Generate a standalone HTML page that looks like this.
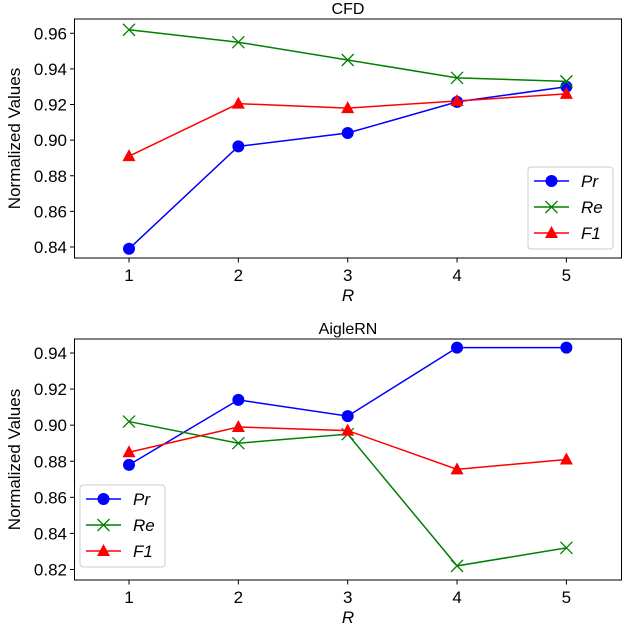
<!DOCTYPE html>
<html><head><meta charset="utf-8"><style>body{margin:0;background:#fff}svg{display:block;font-family:"Liberation Sans","DejaVu Sans",sans-serif}</style></head>
<body>
<svg id="c" width="628" height="624"></svg>
<script>
const categories=[1,2,3,4,5];
const cfdPr=[0.839,0.8965,0.904,0.9215,0.930];
const cfdRe=[0.962,0.955,0.945,0.935,0.933];
const cfdF1=[0.891,0.9205,0.918,0.922,0.926];
const aigPr=[0.878,0.914,0.905,0.943,0.943];
const aigRe=[0.902,0.890,0.895,0.822,0.832];
const aigF1=[0.885,0.899,0.897,0.8755,0.881];
const cfdTicks=[0.84,0.86,0.88,0.90,0.92,0.94,0.96];
const aigTicks=[0.82,0.84,0.86,0.88,0.90,0.92,0.94];
const seriesNames=["Pr","Re","F1"];
const NS="http://www.w3.org/2000/svg";
const svg=document.getElementById('c');
function mk(t,a,p){const e=document.createElementNS(NS,t);for(const k in a)e.setAttribute(k,a[k]);(p||svg).appendChild(e);return e;}
const xs=v=>129+(v-1)*109.35;
const colors=["#0000ff","#008000","#ff0000"];
function marker(g,type,x,y,c){
  if(type==0){const m=mk('circle',{cx:x,cy:y,r:6,fill:c},g);}
  else if(type==1){const m=mk('path',{d:`M${x-6},${y-6}L${x+6},${y+6}M${x-6},${y+6}L${x+6},${y-6}`,stroke:c,'stroke-width':1.3,fill:'none'},g);}
  else {const m=mk('path',{d:`M${x},${y-7}L${x+6.5},${y+5}L${x-6.5},${y+5}Z`,fill:c},g);}
}
function panel(name,title,top,bot,vTop,vBot,ticks,series,legX,legY){
  const g=mk('g',{});
  const ys=v=>bot.y+(v-bot.v)*(top.y-bot.y)/(top.v-bot.v);
  const f=mk('rect',{x:74.5,y:vTop,width:547,height:vBot-vTop,fill:'none',stroke:'#000','stroke-width':1},g);
  
  const t=mk('text',{x:348,y:vTop-5,'text-anchor':'middle','font-size':16},g);t.textContent=title;
  
  ticks.forEach(v=>{const y=ys(v);mk('line',{x1:70,x2:74.5,y1:y,y2:y,stroke:'#000'},g);
    const l=mk('text',{x:67,y:y+6,'text-anchor':'end','font-size':17},g);l.textContent=v.toFixed(2);
    });
  categories.forEach(c=>{const x=xs(c);mk('line',{x1:x,x2:x,y1:vBot,y2:vBot+4.5,stroke:'#000'},g);
    const l=mk('text',{x:x,y:vBot+23,'text-anchor':'middle','font-size':17},g);l.textContent=c;
    });
  const xl=mk('text',{x:348,y:vBot+43,'text-anchor':'middle','font-size':17,'font-style':'italic'},g);xl.textContent='R';
  
  const cy=(vTop+vBot)/2;
  const yl=mk('text',{x:20,y:cy,'text-anchor':'middle','font-size':17,transform:`rotate(-90 20 ${cy})`},g);yl.textContent='Normalized Values';
  
  series.forEach((s,i)=>{
    const sg=mk('g',{},g);
    const pl=mk('polyline',{points:s.map((v,j)=>xs(categories[j])+','+ys(v)).join(' '),fill:'none',stroke:colors[i],'stroke-width':1.5},sg);
    s.forEach((v,j)=>marker(sg,i,xs(categories[j]),ys(v),colors[i]));
  });
  const lg=mk('g',{},g);
  mk('rect',{x:legX,y:legY,width:85,height:82,rx:3,fill:'#fff','fill-opacity':0.8,stroke:'#ccc'},lg);
  seriesNames.forEach((n,i)=>{const y=legY+14+i*26;
    const e=mk('g',{},lg);
    mk('line',{x1:legX+6,x2:legX+41,y1:y,y2:y,stroke:colors[i],'stroke-width':1.5},e);
    marker(e,i,legX+23.5,y,colors[i]);
    const tx=mk('text',{x:legX+53,y:y+6,'font-size':17,'font-style':'italic'},e);tx.textContent=n;});
}
panel('cfd','CFD',{y:33.3,v:0.96},{y:247,v:0.84},19,258,cfdTicks,[cfdPr,cfdRe,cfdF1],528,167);
panel('aiglern','AigleRN',{y:353,v:0.94},{y:569.5,v:0.82},339,580,aigTicks,[aigPr,aigRe,aigF1],80,485);
</script>
</body></html>
